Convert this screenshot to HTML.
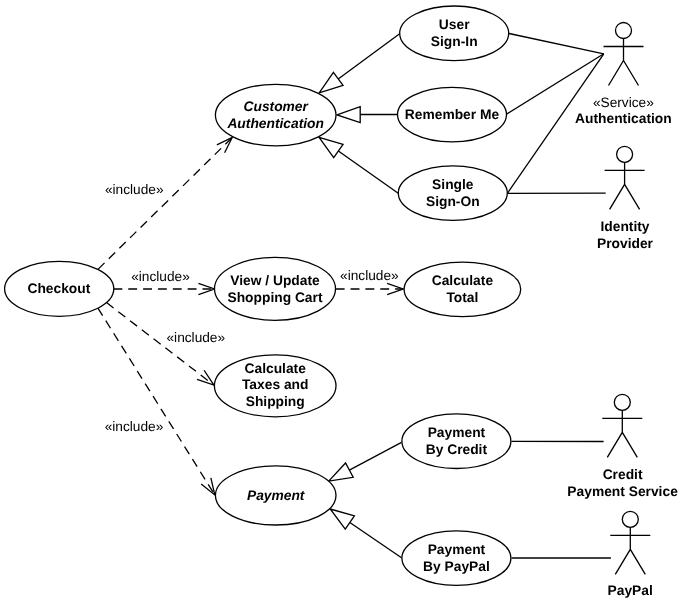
<!DOCTYPE html>
<html><head><meta charset="utf-8"><style>
html,body{margin:0;padding:0;background:#fff;width:680px;height:601px;overflow:hidden}
svg{display:block;will-change:transform}
text{font-family:"Liberation Sans",sans-serif;text-anchor:middle;fill:#000;text-rendering:geometricPrecision}
.b{font-weight:bold;font-size:13.8px}
.bi{font-weight:bold;font-style:italic;font-size:13.8px}
.r{font-size:13.7px}
</style></head><body>
<svg width="680" height="601" viewBox="0 0 680 601">
<line x1="509" y1="33.5" x2="603.8" y2="53.8" stroke="#000" stroke-width="1.3"/>
<line x1="507" y1="113.9" x2="603.8" y2="53.8" stroke="#000" stroke-width="1.3"/>
<line x1="507.4" y1="193.3" x2="603.8" y2="53.8" stroke="#000" stroke-width="1.3"/>
<line x1="507.4" y1="193.3" x2="605.7" y2="193.2" stroke="#000" stroke-width="1.3"/>
<line x1="511.5" y1="441.3" x2="603.6" y2="441.5" stroke="#000" stroke-width="1.3"/>
<line x1="511.5" y1="558" x2="610.9" y2="558" stroke="#000" stroke-width="1.3"/>
<line x1="399.3" y1="34.0" x2="338.21" y2="78.92" stroke="#000" stroke-width="1.3"/>
<polygon points="319.2,92.9 333.41,72.39 343.01,85.44" fill="#fff" stroke="#000" stroke-width="1.3" stroke-linejoin="miter"/>
<line x1="360.2" y1="114.5" x2="397.1" y2="114.5" stroke="#000" stroke-width="1.3"/>
<polygon points="337,114.9 360.2,106.7 360.2,122.7" fill="#fff" stroke="#000" stroke-width="1.3"/>
<line x1="398.2" y1="193.2" x2="338.37" y2="150.92" stroke="#000" stroke-width="1.3"/>
<polygon points="319.1,137.3 343.05,144.31 333.70,157.54" fill="#fff" stroke="#000" stroke-width="1.3" stroke-linejoin="miter"/>
<line x1="401.5" y1="442.4" x2="349.36" y2="470.12" stroke="#000" stroke-width="1.3"/>
<polygon points="328.7,481.1 345.56,462.96 353.16,477.27" fill="#fff" stroke="#000" stroke-width="1.3" stroke-linejoin="miter"/>
<line x1="401.5" y1="557.8" x2="349.84" y2="522.44" stroke="#000" stroke-width="1.3"/>
<polygon points="330.2,509.0 354.42,515.76 345.27,529.13" fill="#fff" stroke="#000" stroke-width="1.3" stroke-linejoin="miter"/>
<line x1="98.2" y1="269.1" x2="232.2" y2="137.5" stroke="#000" stroke-width="1.3" stroke-dasharray="8.9 5.95" stroke-dashoffset="0"/>
<polyline points="216.85,144.81 232.2,137.5 224.61,152.71" fill="none" stroke="#000" stroke-width="1.3"/>
<line x1="113.4" y1="289" x2="214.5" y2="289" stroke="#000" stroke-width="1.3" stroke-dasharray="8.9 5.95" stroke-dashoffset="0"/>
<polyline points="198.43,283.47 214.5,289 198.43,294.53" fill="none" stroke="#000" stroke-width="1.3"/>
<line x1="335.7" y1="289" x2="403.2" y2="289" stroke="#000" stroke-width="1.3" stroke-dasharray="8.9 5.95" stroke-dashoffset="0"/>
<polyline points="387.13,283.47 403.2,289 387.13,294.53" fill="none" stroke="#000" stroke-width="1.3"/>
<line x1="106.5" y1="302.6" x2="213.9" y2="385.1" stroke="#000" stroke-width="1.3" stroke-dasharray="8.9 5.95" stroke-dashoffset="0"/>
<polyline points="204.08,370.25 213.9,385.1 197.02,379.44" fill="none" stroke="#000" stroke-width="1.3"/>
<line x1="97.9" y1="308.1" x2="214.8" y2="494.9" stroke="#000" stroke-width="1.3" stroke-dasharray="8.9 5.95" stroke-dashoffset="0"/>
<polyline points="210.85,477.85 214.8,494.9 201.19,483.90" fill="none" stroke="#000" stroke-width="1.3"/>
<ellipse cx="454.2" cy="33.3" rx="54.5" ry="27.3" fill="#fff" stroke="#000" stroke-width="1.3"/>
<ellipse cx="275.7" cy="115.1" rx="60.3" ry="30.8" fill="#fff" stroke="#000" stroke-width="1.3"/>
<ellipse cx="452.0" cy="114.6" rx="54.5" ry="27.2" fill="#fff" stroke="#000" stroke-width="1.3"/>
<ellipse cx="452.8" cy="193.1" rx="54.5" ry="27.3" fill="#fff" stroke="#000" stroke-width="1.3"/>
<ellipse cx="59.2" cy="288.8" rx="54.6" ry="27.5" fill="#fff" stroke="#000" stroke-width="1.3"/>
<ellipse cx="275.0" cy="288.8" rx="60.5" ry="31.5" fill="#fff" stroke="#000" stroke-width="1.3"/>
<ellipse cx="462.4" cy="289.4" rx="58.3" ry="27.3" fill="#fff" stroke="#000" stroke-width="1.3"/>
<ellipse cx="275.2" cy="385.8" rx="60.8" ry="31.0" fill="#fff" stroke="#000" stroke-width="1.3"/>
<ellipse cx="275.7" cy="495.4" rx="60.3" ry="29.6" fill="#fff" stroke="#000" stroke-width="1.3"/>
<ellipse cx="456.4" cy="441.2" rx="54.5" ry="27.3" fill="#fff" stroke="#000" stroke-width="1.3"/>
<ellipse cx="456.4" cy="558.1" rx="54.5" ry="27.3" fill="#fff" stroke="#000" stroke-width="1.3"/>
<text x="454.2" y="28.70" class="b">User</text>
<text x="454.2" y="45.70" class="b">Sign-In</text>
<text x="275.7" y="110.50" class="bi">Customer</text>
<text x="275.7" y="127.50" class="bi">Authentication</text>
<text x="452.0" y="118.80" class="b">Remember Me</text>
<text x="452.8" y="188.60" class="b">Single</text>
<text x="452.8" y="205.60" class="b">Sign-On</text>
<text x="58.9" y="292.90" class="b">Checkout</text>
<text x="275.0" y="285.30" class="b">View / Update</text>
<text x="275.0" y="302.30" class="b">Shopping Cart</text>
<text x="462.4" y="285.30" class="b">Calculate</text>
<text x="462.4" y="302.30" class="b">Total</text>
<text x="275.2" y="372.80" class="b">Calculate</text>
<text x="275.2" y="389.40" class="b">Taxes and</text>
<text x="275.2" y="406.00" class="b">Shipping</text>
<text x="275.7" y="499.60" class="bi">Payment</text>
<text x="456.4" y="437.00" class="b">Payment</text>
<text x="456.4" y="454.00" class="b">By Credit</text>
<text x="456.4" y="553.70" class="b">Payment</text>
<text x="456.4" y="570.70" class="b">By PayPal</text>
<text x="134.2" y="194.4" class="r">&#171;include&#187;</text>
<text x="160.5" y="280.6" class="r">&#171;include&#187;</text>
<text x="369.4" y="280.3" class="r">&#171;include&#187;</text>
<text x="195.8" y="341.9" class="r">&#171;include&#187;</text>
<text x="134.0" y="431.3" class="r">&#171;include&#187;</text>
<circle cx="623.5" cy="30.5" r="8" fill="none" stroke="#000" stroke-width="1.3"/>
<path d="M623.5 38.5V60.5M603.5 46.5H643.5M608.5 85.5L623.5 60.5L638.5 85.5" fill="none" stroke="#000" stroke-width="1.3"/>
<circle cx="624.6" cy="154.3" r="8" fill="none" stroke="#000" stroke-width="1.3"/>
<path d="M624.6 162.3V184.3M604.6 170.3H644.6M609.6 209.3L624.6 184.3L639.6 209.3" fill="none" stroke="#000" stroke-width="1.3"/>
<circle cx="622.3" cy="402.3" r="8" fill="none" stroke="#000" stroke-width="1.3"/>
<path d="M622.3 410.3V432.3M602.3 418.3H642.3M607.3 457.3L622.3 432.3L637.3 457.3" fill="none" stroke="#000" stroke-width="1.3"/>
<circle cx="630.3" cy="519.3" r="8" fill="none" stroke="#000" stroke-width="1.3"/>
<path d="M630.3 527.3V549.3M610.3 535.3H650.3M615.3 574.3L630.3 549.3L645.3 574.3" fill="none" stroke="#000" stroke-width="1.3"/>
<text x="623.4" y="106.5" class="r">&#171;Service&#187;</text>
<text x="623.4" y="122.90" class="b">Authentication</text>
<text x="625.0" y="230.60" class="b">Identity</text>
<text x="625.0" y="247.60" class="b">Provider</text>
<text x="622.6" y="478.50" class="b">Credit</text>
<text x="622.6" y="495.50" class="b">Payment Service</text>
<text x="630.2" y="595.00" class="b">PayPal</text>
</svg>
</body></html>
